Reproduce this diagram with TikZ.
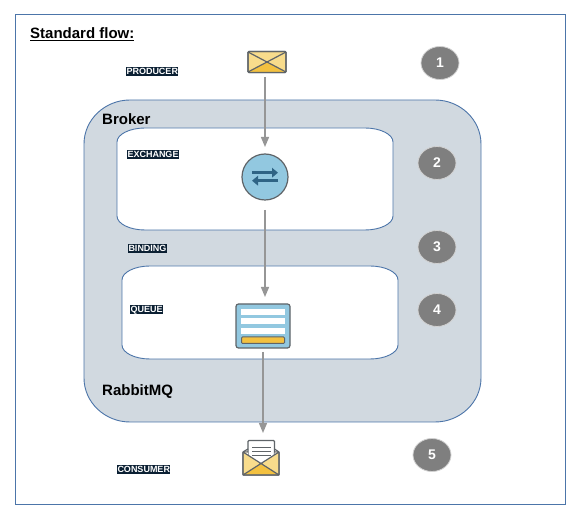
\documentclass[tikz,border=0pt]{standalone}
\usepackage{fontspec}
\setmainfont{Liberation Sans}
\usetikzlibrary{shapes.geometric,arrows.meta}
\definecolor{edgeblue}{HTML}{4C75A9}
\definecolor{brokerfill}{HTML}{D1D9E0}
\definecolor{darktag}{HTML}{0B2033}
\definecolor{stepgrey}{HTML}{7F7F7F}
\definecolor{wire}{HTML}{969696}
\definecolor{iconline}{HTML}{5F6468}
\definecolor{skyfill}{HTML}{92C8E0}
\definecolor{arrowblue}{HTML}{2F6485}
\definecolor{envlight}{HTML}{F8DC8C}
\definecolor{envdark}{HTML}{F3C140}
\newcommand{\softbox}[7]{% options x1 y1 x2 y2 rx ry
  \draw[#1] ({#2+#6},#3) -- ({#4-#6},#3)
    .. controls ({#4-0.45*#6},#3) and (#4,{#3+0.45*#7}) .. (#4,{#3+#7})
    -- (#4,{#5-#7})
    .. controls (#4,{#5-0.45*#7}) and ({#4-0.45*#6},#5) .. ({#4-#6},#5)
    -- ({#2+#6},#5)
    .. controls ({#2+0.45*#6},#5) and (#2,{#5-0.45*#7}) .. (#2,{#5-#7})
    -- (#2,{#3+#7})
    .. controls (#2,{#3+0.45*#7}) and ({#2+0.45*#6},#3) .. ({#2+#6},#3) -- cycle;}
\tikzset{
  x=1pt,y=-1pt,
  tag/.style={fill=darktag,text=white,font=\fontsize{9}{9}\selectfont\bfseries,inner xsep=0.3pt,inner ysep=0.3pt,anchor=west,text height=6.8pt,text depth=1.6pt},
  stepdisc/.style={ellipse,fill=stepgrey,draw=black!18,line width=0.8pt,text=white,font=\fontsize{14}{15}\selectfont\bfseries,minimum width=38pt,minimum height=33pt,inner sep=0pt},
  heading/.style={font=\fontsize{15}{17}\selectfont\bfseries,anchor=west,inner sep=0pt},
  boxline/.style={draw=edgeblue,line width=0.9pt},
  flow/.style={draw=wire,line width=1.3pt,-{Triangle[length=10pt,width=8pt]}},
  iconshape/.style={draw=iconline,line width=1.2pt},
}
\begin{document}
\begin{tikzpicture}
\useasboundingbox (0,0) rectangle (579,518);
\fill[white] (0,0) rectangle (579,518);
\node[draw=edgeblue,line width=0.8pt,minimum width=550pt,minimum height=490pt,inner sep=0pt] (frame) at (290,259) {};
\softbox{boxline,fill=brokerfill}{84}{100}{481}{422}{46}{44}
\softbox{boxline,fill=white}{117}{128}{393}{230}{28}{14}
\softbox{boxline,fill=white}{122}{266}{398}{359}{28}{14}
% title
\node[heading] (title) at (30,33.8) {\underline{Standard flow:}};
\node[heading] (broker) at (102,118.8) {Broker};
\node[heading] (rabbit) at (102,391.8) {RabbitMQ};
% tags
\node[tag] (producer) at (126,71.6) {PRODUCER};
\node[tag] (exchange) at (127,154.6) {EXCHANGE};
\node[tag] (binding) at (128,248.6) {BINDING};
\node[tag] (queue) at (130,309.6) {QUEUE};
\node[tag] (consumer) at (117,469.6) {CONSUMER};
% step discs
\node[stepdisc] (s1) at (440,63) {1};
\node[stepdisc] (s2) at (437,163) {2};
\node[stepdisc] (s3) at (437,247) {3};
\node[stepdisc] (s4) at (437,310) {4};
\node[stepdisc] (s5) at (432,455) {5};
% producer envelope
\node[iconshape,fill=envlight,rounded corners=1pt,minimum width=38pt,minimum height=21pt,inner sep=0pt] (env) at (267,62) {};
\fill[envdark] (249,72) -- (267,62) -- (285,72) -- cycle;
\draw[iconshape] (248,52) -- (286,72) (286,52) -- (248,72);
\draw[iconshape,rounded corners=1pt] (248,51.5) rectangle (286,72.5);
% exchange icon
\node[circle,draw=iconline,line width=1.2pt,fill=skyfill,minimum size=46pt,inner sep=0pt] (exc) at (265,177) {};
\draw[arrowblue,line width=2.7pt,-{Triangle[length=6pt,width=9.5pt]}] (252,172.7) -- (278,172.7);
\draw[arrowblue,line width=2.7pt,-{Triangle[length=6pt,width=9.5pt]}] (278,180.7) -- (252,180.7);
% queue icon
\node[iconshape,fill=skyfill,rounded corners=2.5pt,minimum width=54pt,minimum height=44pt,inner sep=0pt] (que) at (263,326) {};
\fill[white] (241,309) rectangle (285,315);
\fill[white] (241,318.5) rectangle (285,324.5);
\fill[white] (241,328) rectangle (285,334);
\draw[iconshape,fill=envdark,rounded corners=1pt,line width=1pt] (241.5,337) rectangle (284.5,343.5);
% consumer envelope
\node[iconshape,fill=envlight,minimum width=36pt,minimum height=23pt,inner sep=0pt,rounded corners=1pt] (cons) at (261,463.5) {};
\draw[iconshape,fill=white,rounded corners=1pt] (248,466) -- (248,440.5) -- (274.5,440.5) -- (274.5,466);
\draw[iconline,line width=1pt] (252,447.5) -- (271,447.5) (252,451.5) -- (271,451.5) (252,455.5) -- (271,455.5);
\fill[white] (243.6,452.6) -- (261,463.6) -- (278.4,452.6) -- (274.5,452.6) -- (274.5,458) -- (248,458) -- (248,452.6) -- cycle;
\fill[envlight] (243.6,452.6) -- (261,464) -- (243.6,474.4) -- cycle;
\fill[envlight] (278.4,452.6) -- (261,464) -- (278.4,474.4) -- cycle;
\fill[envdark] (244,474.4) -- (261,464) -- (278,474.4) -- cycle;
\draw[iconshape,line join=round] (248,449) -- (243,452) -- (243,475) -- (279,475) -- (279,452) -- (274.5,449);
\draw[iconshape] (243,452) -- (279,475) (279,452) -- (243,475);
% connector anchors
\coordinate (a1) at (265,77);
\coordinate (b1) at (265,147);
\coordinate (a2) at (265,210);
\coordinate (b2) at (265,297);
\coordinate (a3) at (263,352);
\coordinate (b3) at (263,433);
\draw[flow] (a1) -- (b1);
\draw[flow] (a2) -- (b2);
\draw[flow] (a3) -- (b3);
\end{tikzpicture}
\end{document}
